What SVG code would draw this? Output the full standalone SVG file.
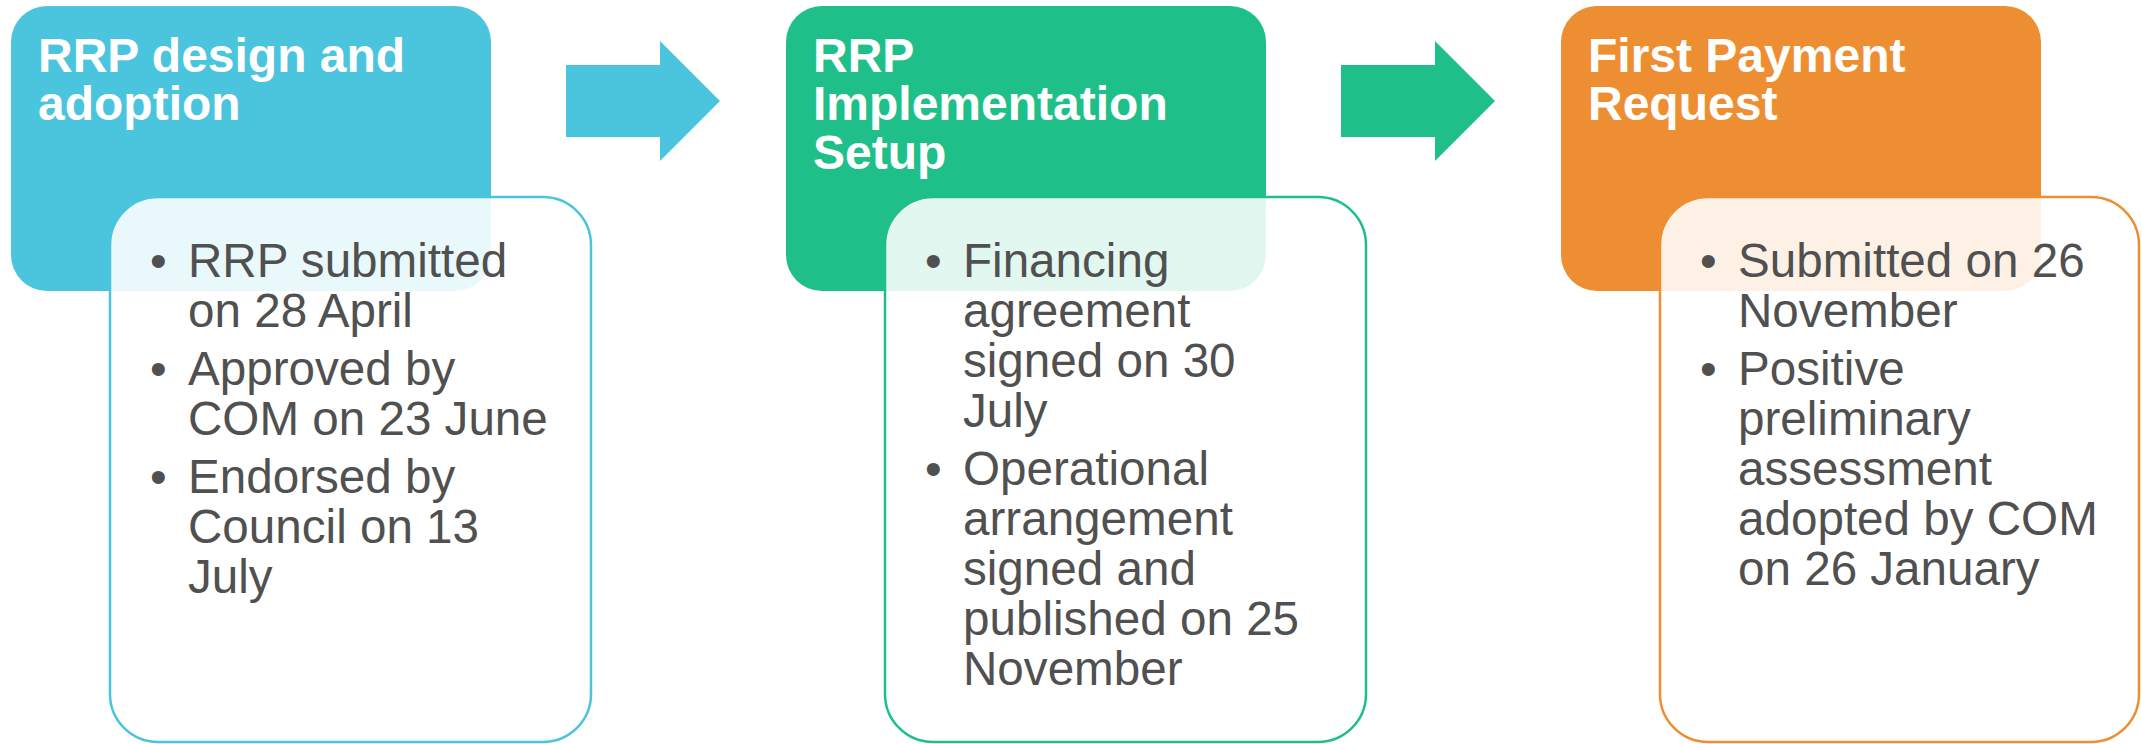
<svg xmlns="http://www.w3.org/2000/svg" width="2141" height="744" viewBox="0 0 2141 744">
<style>
.hd{font-family:"Liberation Sans",Arial,sans-serif;font-weight:bold;font-size:48px;fill:#ffffff}
.bd{font-family:"Liberation Sans",Arial,sans-serif;font-size:47.6px;fill:#505050}
.card{fill:#ffffff;fill-opacity:0.88;stroke-width:2.5}
</style>
<rect width="2141" height="744" fill="#ffffff"/>
<g id="connectors">
<path d="M566 65 H660 V41 L720 101 L660 161 V137 H566 Z" fill="#4BC4DE"/>
<path d="M1341 65 H1435 V41 L1495 101 L1435 161 V137 H1341 Z" fill="#1FBF8A"/>
</g>
<g id="node1">
<rect x="11" y="6" width="480" height="285" rx="36" fill="#4BC4DE"/>
<text class="hd" x="38" y="72">RRP design and</text>
<text class="hd" x="38" y="120">adoption</text>
<rect class="card" x="110" y="197" width="481" height="545" rx="48" stroke="#4BC4DE"/>
<text class="bd"><tspan x="150" y="277">•</tspan><tspan x="188" y="277">RRP submitted</tspan><tspan x="188" y="327">on 28 April</tspan><tspan x="150" y="385">•</tspan><tspan x="188" y="385">Approved by</tspan><tspan x="188" y="435">COM on 23 June</tspan><tspan x="150" y="493">•</tspan><tspan x="188" y="493">Endorsed by</tspan><tspan x="188" y="543">Council on 13</tspan><tspan x="188" y="593">July</tspan></text>
</g>
<g id="node2">
<rect x="786" y="6" width="480" height="285" rx="36" fill="#1FBF8A"/>
<text class="hd" x="813" y="72">RRP</text>
<text class="hd" x="813" y="120">Implementation</text>
<text class="hd" x="813" y="169">Setup</text>
<rect class="card" x="885" y="197" width="481" height="545" rx="48" stroke="#1FBF8A"/>
<text class="bd"><tspan x="925" y="277">•</tspan><tspan x="963" y="277">Financing</tspan><tspan x="963" y="327">agreement</tspan><tspan x="963" y="377">signed on 30</tspan><tspan x="963" y="427">July</tspan><tspan x="925" y="485">•</tspan><tspan x="963" y="485">Operational</tspan><tspan x="963" y="535">arrangement</tspan><tspan x="963" y="585">signed and</tspan><tspan x="963" y="635">published on 25</tspan><tspan x="963" y="685">November</tspan></text>
</g>
<g id="node3">
<rect x="1561" y="6" width="480" height="285" rx="36" fill="#EE8E32"/>
<text class="hd" x="1588" y="72">First Payment</text>
<text class="hd" x="1588" y="120">Request</text>
<rect class="card" x="1660" y="197" width="479" height="545" rx="48" stroke="#EE8E32"/>
<text class="bd"><tspan x="1700" y="277">•</tspan><tspan x="1738" y="277">Submitted on 26</tspan><tspan x="1738" y="327">November</tspan><tspan x="1700" y="385">•</tspan><tspan x="1738" y="385">Positive</tspan><tspan x="1738" y="435">preliminary</tspan><tspan x="1738" y="485">assessment</tspan><tspan x="1738" y="535">adopted by COM</tspan><tspan x="1738" y="585">on 26 January</tspan></text>
</g>
</svg>
